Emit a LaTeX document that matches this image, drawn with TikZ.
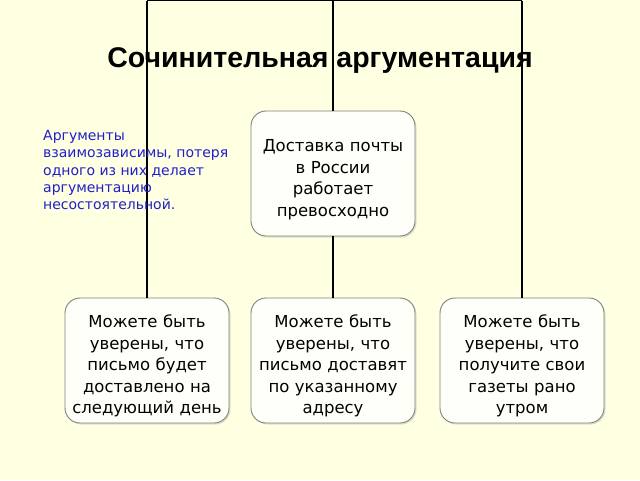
\documentclass[tikz,border=0pt]{standalone}
\usepackage{fontspec}
\setmainfont{DejaVu Sans}
\newfontfamily\titlefont{Liberation Sans}
\usetikzlibrary{shadows}
\definecolor{bgc}{HTML}{FFFFE1}
\definecolor{boxfill}{HTML}{FFFFFA}
\definecolor{boxline}{HTML}{7F7F7F}
\definecolor{notec}{HTML}{1F1FCC}
\newcommand{\topstrut}{\rule{0pt}{24pt}}
\tikzset{
  pbox/.style={draw=boxline, line width=0.9pt, fill=boxfill, rounded corners=15pt,
    minimum width=163pt, minimum height=125pt, inner sep=2pt, align=center,
    text width=160pt, font=\fontsize{16.5}{21.5}\selectfont,
    drop shadow={shadow xshift=1.5pt, shadow yshift=-1.5pt, opacity=0.25, fill=gray}},
  conn/.style={draw=black, line width=1.1pt},
}
\begin{document}
\begin{tikzpicture}[x=1pt,y=-1pt]
\useasboundingbox[fill=bgc] (0,0) rectangle (640,480);
\coordinate (tl) at (147,0.6);
\coordinate (tm) at (333,0.6);
\coordinate (tr) at (522,0.6);
\node[pbox] (c) at (333,173.5) {\topstrut Доставка почты\\в России\\работает\\превосходно};
\node[pbox] (b1) at (147,360.5) {\topstrut Можете быть\\уверены, что\\письмо будет\\доставлено на\\следующий день};
\node[pbox] (b2) at (333,360.5) {\topstrut Можете быть\\уверены, что\\письмо доставят\\по указанному\\адресу};
\node[pbox] (b3) at (522,360.5) {\topstrut Можете быть\\уверены, что\\получите свои\\газеты рано\\утром};
\draw[conn] (tl) -- (tr);
\draw[conn] (tl) -- (b1.north);
\draw[conn] (tm) -- (c.north);
\draw[conn] (c.south) -- (b2.north);
\draw[conn] (tr) -- (b3.north);
\node[font=\titlefont\bfseries\fontsize{28.5}{32}\selectfont, inner sep=0pt] (title) at (320,61) {Сочинительная аргументация};
\node[anchor=north west, align=left, text=notec, inner sep=0pt, font=\fontsize{14}{17.3}\selectfont] (note) at (43,130) {Аргументы\\взаимозависимы, потеря\\одного из них делает\\аргументацию\\несостоятельной.};
\end{tikzpicture}
\end{document}
